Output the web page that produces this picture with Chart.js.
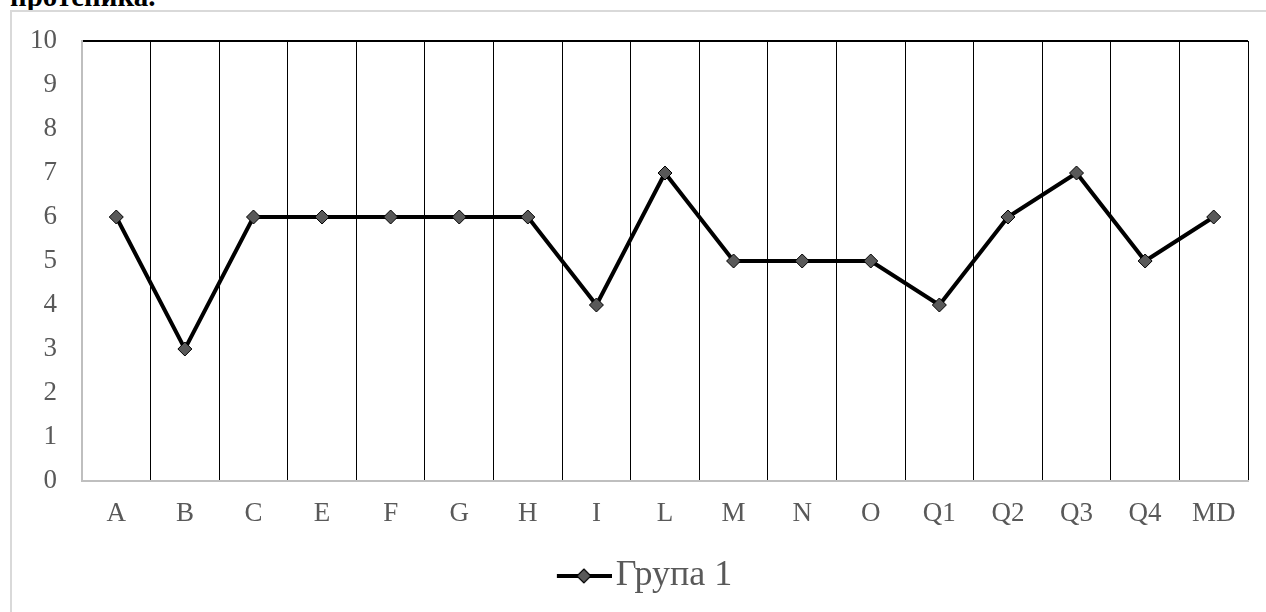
<!DOCTYPE html>
<html>
<head>
<meta charset="utf-8">
<script src="https://cdn.jsdelivr.net/npm/chart.js@4"></script>
<style>
  html, body { margin: 0; padding: 0; background: #fff; overflow: hidden; }
  body { width: 1266px; height: 612px; position: relative; }
  .caption { position: absolute; left: 10px; top: -20px; font: bold 29px "Liberation Serif", serif; color: #000; }
  .frame { position: absolute; left: 10px; top: 10px; width: 1256px; height: 602px;
           border-left: 2px solid #d9d9d9; border-top: 2px solid #d9d9d9; }
  #chart { display: block; }
</style>
</head>
<body>
<div class="caption">протеника.</div>
<div class="frame"><canvas id="chart" width="1254" height="600"></canvas></div>
<script>
const categories = ['A', 'B', 'C', 'E', 'F', 'G', 'H', 'I', 'L', 'M', 'N', 'O', 'Q1', 'Q2', 'Q3', 'Q4', 'MD'];
const group1 = [6, 3, 6, 6, 6, 6, 6, 4, 7, 5, 5, 5, 4, 6, 7, 5, 6];
const seriesName = 'Група 1';
const yTicks = [0, 1, 2, 3, 4, 5, 6, 7, 8, 9, 10];

const serif = '"Liberation Serif", "Times New Roman", serif';
const labelGrey = '#595959';

// legend symbol: line with a diamond, drawn in the right part of a wider image
function legendSymbol() {
    const c = document.createElement('canvas');
    c.width = 98; c.height = 18;
    const g = c.getContext('2d');
    g.strokeStyle = '#000'; g.lineWidth = 4;
    g.beginPath(); g.moveTo(43, 9); g.lineTo(98, 9); g.stroke();
    g.fillStyle = labelGrey; g.lineWidth = 1.2;
    g.beginPath(); g.moveTo(70, 2); g.lineTo(77, 9); g.lineTo(70, 16); g.lineTo(63, 9); g.closePath();
    g.fill(); g.stroke();
    return c;
}
const symbol = legendSymbol();

new Chart(document.getElementById('chart'), {
    type: 'line',
    data: {
        labels: categories,
        datasets: [{
            label: seriesName,
            data: group1,
            borderColor: '#000',
            borderWidth: 4,
            pointStyle: 'rectRot',
            pointRadius: 7,
            pointBackgroundColor: labelGrey,
            pointBorderColor: '#000',
            pointBorderWidth: 1,
            tension: 0
        }]
    },
    options: {
        responsive: false,
        animation: false,
        layout: { autoPadding: false, padding: { top: 29, right: 18, left: 0, bottom: 8 } },
        plugins: {
            tooltip: { enabled: false },
            legend: {
                position: 'bottom',
                labels: {
                    usePointStyle: true,
                    pointStyleWidth: 70,
                    color: labelGrey,
                    font: { family: serif, size: 36 },
                    padding: 25,
                    generateLabels: chart => [{
                        text: seriesName,
                        pointStyle: symbol,
                        fontColor: labelGrey,
                        datasetIndex: 0,
                        hidden: false
                    }]
                }
            }
        },
        scales: {
            x: {
                offset: true,
                afterFit: axis => { axis.height = 52; },
                grid: {
                    offset: true,
                    drawTicks: false,
                    color: ctx => ctx.index === 0 ? 'rgba(0,0,0,0)' : '#000',
                    lineWidth: ctx => ctx.index === categories.length ? 2 : 1
                },
                border: { color: '#bfbfbf', width: 2 },
                ticks: { color: labelGrey, font: { family: serif, size: 27 }, padding: 17 }
            },
            y: {
                min: 0, max: 10,
                afterBuildTicks: axis => { axis.ticks = yTicks.map(v => ({ value: v })); },
                // fixed width; drop the label padding so the top of the plot follows layout.padding
                afterFit: axis => { axis.width = 70; axis.paddingTop = 0; axis.paddingBottom = 0; },
                grid: {
                    drawTicks: false,
                    color: ctx => ctx.tick && ctx.tick.value === 10 ? '#000' : 'rgba(0,0,0,0)',
                    lineWidth: 2
                },
                border: { color: '#bfbfbf', width: 2 },
                ticks: { color: labelGrey, font: { family: serif, size: 27 }, padding: 25 }
            }
        }
    }
});
</script>
</body>
</html>
